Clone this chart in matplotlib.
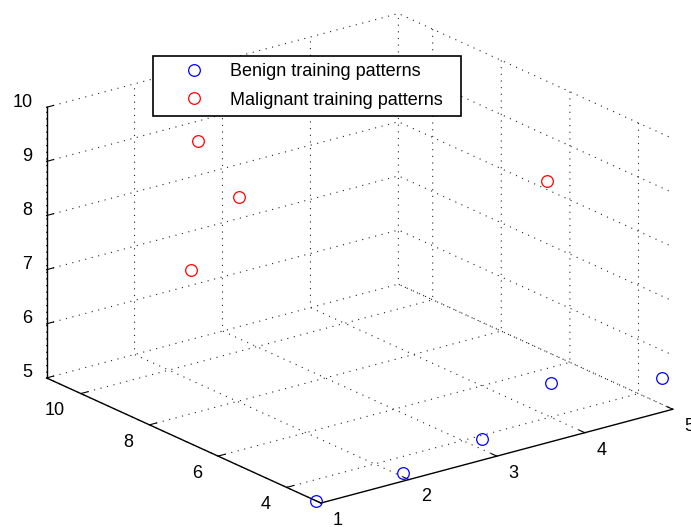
import numpy as np
import matplotlib
matplotlib.use('Agg')
import matplotlib.pyplot as plt
from mpl_toolkits.mplot3d import proj3d

# benign training patterns
benign_x = [1, 2, 3, 4, 5]
benign_y = [3.15, 3.16, 3.44, 3.98, 3.30]
benign_z = [5.0, 5.07, 5.19, 5.63, 5.49]

# malignant training patterns
malig_x = [2, 2, 2, 5]
malig_y = [9.16, 7.94, 9.36, 6.67]
malig_z = [9.47, 8.80, 7.04, 8.16]

x_ticks = [1, 2, 3, 4, 5]
y_ticks = [4, 6, 8, 10]
z_ticks = [5, 6, 7, 8, 9, 10]
x_lim = (1, 5)
y_lim = (3, 11)
z_lim = (5, 10)

plt.rcParams['font.family'] = ['Liberation Sans', 'DejaVu Sans']
plt.rcParams['font.size'] = 13
plt.rcParams['grid.linestyle'] = (0, (1, 5))
plt.rcParams['grid.color'] = '#222222'
plt.rcParams['grid.linewidth'] = 0.8

fig = plt.figure(figsize=(6.91, 5.27), dpi=100)
ax = fig.add_axes([0.0102, -0.0036, 1, 1], projection='3d', proj_type='ortho')
# matlab-like default view, stretched to fill
ax.view_init(elev=20.4, azim=-127.4)
ax.set_box_aspect((1, 1.02, 0.652), zoom=1.281)

ax.plot(benign_x, benign_y, benign_z, 'o', color='blue', mfc='none',
        ms=8.4, mew=0.9, clip_on=False, label='Benign training patterns')
ax.plot(malig_x, malig_y, malig_z, 'o', color='red', mfc='none',
        ms=8.4, mew=0.9, clip_on=False, label='Malignant training patterns')

ax.set_xlim(*x_lim)
ax.set_ylim(*y_lim)
ax.set_zlim(*z_lim)
ax.set_xticks(x_ticks)
ax.set_yticks(y_ticks)
ax.set_zticks(z_ticks)

for axis in (ax.xaxis, ax.yaxis, ax.zaxis):
    axis.set_tick_params(label1On=False, label2On=False)
    axis.set_pane_color((1, 1, 1, 0))
    axis.line.set_color('black')
    axis.line.set_linewidth(1.0)
    axis._axinfo['tick']['inward_factor'] = 0.0
    axis._axinfo['tick']['outward_factor'] = 0.25

# tick labels placed like matlab does: project the tick point, then offset in points
M = ax.get_proj()


def tick_label(x, y, z, s, dx, dy, ha):
    px, py, _ = proj3d.proj_transform(x, y, z, M)
    ax.annotate(s, xy=(px, py), xycoords='data', xytext=(dx, dy),
                textcoords='offset points', ha=ha, va='center',
                annotation_clip=False)


for t in x_ticks:
    tick_label(t, y_lim[0], z_lim[0], str(t), 12.2, -12.5, 'center')
for t in y_ticks:
    tick_label(x_lim[0], t, z_lim[0], str(t), -11.5, -12.5, 'right')
for t in z_ticks:
    tick_label(x_lim[0], y_lim[1], t, str(t), -10.2, 3.6, 'right')

leg = ax.legend(loc='upper left', bbox_to_anchor=(153 / 691, 1 - 55.7 / 527, 307.7 / 691, 0),
                bbox_transform=fig.transFigure, mode='expand', borderaxespad=0,
                fancybox=False, framealpha=1, edgecolor='black',
                handlelength=3.7, handletextpad=0.15, borderpad=0.4, labelspacing=0.65)
leg.get_frame().set_linewidth(1.2)

fig.savefig('out.png', dpi=100)
